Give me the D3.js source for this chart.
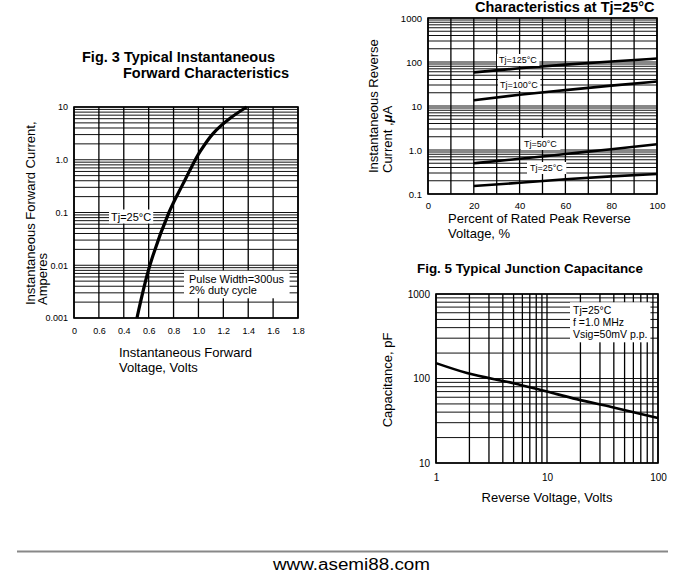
<!DOCTYPE html>
<html>
<head>
<meta charset="utf-8">
<script src="https://cdn.jsdelivr.net/npm/d3@7"></script>
<style>
body{margin:0;background:#fff;}
svg{display:block;font-family:"Liberation Sans",Arial,sans-serif;}
</style>
</head>
<body>
<svg id="sheet" width="700" height="585"></svg>
<script>
// Fig. 3 - forward characteristics (volts vs amps)
var fwdVolts = [0.506, 0.61, 0.763, 0.878, 0.946, 1.0125, 1.119, 1.254, 1.388];
var fwdAmps = [0.001, 0.01, 0.1, 0.357, 0.74, 1.42, 3.17, 6.1, 10];
var fwdXTicks = [0, 0.2, 0.4, 0.6, 0.8, 1.0, 1.2, 1.4, 1.6, 1.8];
var fwdXLabels = ["0", "0.6", "0.4", "0.6", "0.8", "1.0", "1.2", "1.4", "1.6", "1.8"];
var fwdYTicks = [10, 1, 0.1, 0.01, 0.001];
var fwdYLabels = ["10", "1.0", "0.1", "0.01", "0.001"];

// Fig. 4 - reverse leakage (percent of rated voltage vs uA)
var revPercent = [20, 40, 60, 80, 100];
var revTj125 = [58, 72, 87, 103, 120];
var revTj100 = [13.5, 18, 23, 29, 36];
var revTj50 = [0.5, 0.63, 0.81, 1.04, 1.35];
var revTj25 = [0.152, 0.18, 0.216, 0.252, 0.285];
var revXTicks = [0, 20, 40, 60, 80, 100];
var revYTicks = [1000, 100, 10, 1, 0.1];
var revYLabels = ["1000", "100", "10", "1.0", "0.1"];

// Fig. 5 - junction capacitance (volts vs pF)
var capVolts = [1, 1.9, 5, 10, 18.5, 38, 100];
var capPf = [152, 116, 88, 70, 57, 46, 34];
var capXTicks = [1, 10, 100];
var capYTicks = [1000, 100, 10];

var svg = d3.select("#sheet");

function zip(xs, ys){
    return xs.map(function(x, i){ return {x: x, y: ys[i]}; });
}

//draws grid lines + frame for one panel
function drawGrid(g, x, y, xGrid, yGrid){
    let x0 = x.range()[0], x1 = x.range()[1];
    let y0 = y.range()[0], y1 = y.range()[1];
    g.append("g").selectAll("line")
        .data(yGrid)
        .join("line")
        .attr("x1", x0).attr("x2", x1)
        .attr("y1", function(d){ return y(d); })
        .attr("y2", function(d){ return y(d); })
        .attr("stroke", "#111")
        .attr("stroke-width", 1);
    g.append("g").selectAll("line")
        .data(xGrid)
        .join("line")
        .attr("y1", y0).attr("y2", y1)
        .attr("x1", function(d){ return x(d); })
        .attr("x2", function(d){ return x(d); })
        .attr("stroke", "#000")
        .attr("stroke-width", 1.3);
    g.append("rect")
        .attr("x", x0).attr("y", y1)
        .attr("width", x1 - x0).attr("height", y0 - y1)
        .attr("fill", "none")
        .attr("stroke", "#000")
        .attr("stroke-width", 1.6);
}

function drawAxes(g, x, y, xTicks, xLabels, yTicks, yLabels, fs, xPad, yPad){
    let xAxis = d3.axisBottom(x)
        .tickValues(xTicks)
        .tickSize(0)
        .tickPadding(xPad)
        .tickFormat(function(d, i){ return xLabels[i]; });
    let yAxis = d3.axisLeft(y)
        .tickValues(yTicks)
        .tickSize(0)
        .tickPadding(yPad)
        .tickFormat(function(d, i){ return yLabels[i]; });
    let ax = g.append("g").attr("transform", "translate(0," + y.range()[0] + ")").call(xAxis);
    let ay = g.append("g").attr("transform", "translate(" + x.range()[0] + ",0)").call(yAxis);
    [ax, ay].forEach(function(a){
        a.select(".domain").remove();
        a.selectAll("text")
            .attr("font-family", "'Liberation Sans',Arial,sans-serif")
            .attr("font-size", fs)
            .attr("fill", "#000");
    });
}

function drawCurve(g, x, y, pts, w, curve){
    let line = d3.line()
        .x(function(d){ return x(d.x); })
        .y(function(d){ return y(d.y); })
        .curve(curve || d3.curveMonotoneX);
    g.append("path")
        .datum(pts)
        .attr("d", line)
        .attr("fill", "none")
        .attr("stroke", "#000")
        .attr("stroke-width", w)
        .attr("stroke-linecap", "butt");
}

//text lines with a white box behind them
function tag(g, x, y, lines, fs, lh, padX, padY){
    let grp = g.append("g");
    let box = grp.append("rect").attr("fill", "#fff");
    let t = grp.append("text")
        .attr("font-size", fs)
        .attr("fill", "#000");
    lines.forEach(function(s, i){
        t.append("tspan").attr("x", x).attr("y", y + i * lh).text(s);
    });
    let bb = t.node().getBBox();
    box.attr("x", bb.x - padX).attr("y", bb.y - padY)
        .attr("width", bb.width + 2 * padX)
        .attr("height", bb.height + 2 * padY);
    return grp;
}

function label(g, x, y, s, fs, opts){
    opts = opts || {};
    let t = g.append("text")
        .attr("x", x).attr("y", y)
        .attr("font-size", fs)
        .attr("fill", "#000")
        .attr("font-weight", opts.bold ? "bold" : "normal")
        .attr("text-anchor", opts.anchor || "start")
        .text(s);
    if(opts.rotate){
        t.attr("transform", "rotate(-90," + x + "," + y + ")");
    }
    return t;
}

//#region Fig 3
var f3 = svg.append("g");
var f3x = d3.scaleLinear().domain([0, 1.8]).range([74, 298]);
var f3y = d3.scaleLog().domain([0.001, 10]).range([318, 107]);
drawGrid(f3, f3x, f3y, fwdXTicks, f3y.ticks());
drawCurve(f3, f3x, f3y, zip(fwdVolts, fwdAmps), 3.2, d3.curveCatmullRom.alpha(0.5));
drawAxes(f3, f3x, f3y, fwdXTicks, fwdXLabels, fwdYTicks, fwdYLabels, 9, 10, 6);
tag(f3, 111, 220.5, ["Tj=25°C"], 11, 0, 2, 1);
tag(f3, 189, 282.7, ["Pulse Width=300us", "2% duty cycle"], 11, 11.6, 5, 2);
label(f3, 82, 62, "Fig. 3 Typical Instantaneous", 14.5, {bold: true});
label(f3, 123, 77.5, "Forward Characteristics", 14.5, {bold: true});
label(f3, 119, 357, "Instantaneous Forward", 13);
label(f3, 119, 372, "Voltage, Volts", 13);
label(f3, 35, 305, "Instantaneous Forward Current,", 13, {rotate: true});
label(f3, 47, 305, "Amperes", 13, {rotate: true});
//#endregion

//#region Fig 4
var f4 = svg.append("g");
var f4x = d3.scaleLinear().domain([0, 100]).range([428, 657]);
var f4y = d3.scaleLog().domain([0.1, 1000]).range([194, 18]);
drawGrid(f4, f4x, f4y, d3.range(0, 101, 10), f4y.ticks());
[revTj125, revTj100, revTj50, revTj25].forEach(function(s){
    drawCurve(f4, f4x, f4y, zip(revPercent, s), 2.6);
});
drawAxes(f4, f4x, f4y, revXTicks, revXTicks.map(String), revYTicks, revYLabels, 9.5, 8, 6);
tag(f4, 499, 63, ["Tj=125°C"], 9, 0, 2, 1);
tag(f4, 500, 88, ["Tj=100°C"], 9, 0, 2, 1);
tag(f4, 524, 147, ["Tj=50°C"], 9, 0, 3, 1);
tag(f4, 530, 171, ["Tj=25°C"], 9, 0, 3, 1);
label(f4, 475, 12, "Characteristics at Tj=25°C", 14.5, {bold: true});
label(f4, 448, 223, "Percent of Rated Peak Reverse", 13);
label(f4, 448, 238, "Voltage, %", 13);
label(f4, 378, 173, "Instantaneous Reverse", 13, {rotate: true});
var cur = label(f4, 392, 173, "Current ,", 13, {rotate: true});
cur.append("tspan").attr("font-weight", "bold").attr("font-style", "italic").text("μ");
cur.append("tspan").text("A");
//#endregion

//#region Fig 5
var f5 = svg.append("g");
var f5x = d3.scaleLog().domain([1, 100]).range([436, 658]);
var f5y = d3.scaleLog().domain([10, 1000]).range([463, 294]);
drawGrid(f5, f5x, f5y, f5x.ticks(), f5y.ticks());
drawCurve(f5, f5x, f5y, zip(capVolts, capPf), 2.6);
drawAxes(f5, f5x, f5y, capXTicks, capXTicks.map(String), capYTicks, capYTicks.map(String), 10, 11, 6);
tag(f5, 573, 314.3, ["Tj=25°C", "f =1.0 MHz", "Vsig=50mV p.p."], 10.5, 12, 3, 2);
label(f5, 417, 273, "Fig. 5 Typical Junction Capacitance", 13.4, {bold: true});
label(f5, 547, 502, "Reverse Voltage, Volts", 13, {anchor: "middle"});
label(f5, 392, 380, "Capacitance, pF", 13, {rotate: true, anchor: "middle"});
//#endregion

// footer
svg.append("line")
    .attr("x1", 17).attr("x2", 668)
    .attr("y1", 551.5).attr("y2", 551.5)
    .attr("stroke", "#888")
    .attr("stroke-width", 2);
svg.append("text")
    .attr("x", 273).attr("y", 570)
    .attr("font-size", 16)
    .attr("textLength", 157)
    .attr("lengthAdjust", "spacingAndGlyphs")
    .text("www.asemi88.com");
</script>
</body>
</html>
